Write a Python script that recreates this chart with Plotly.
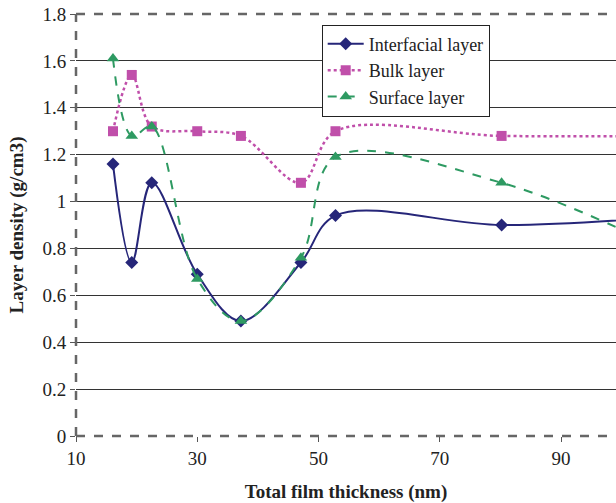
import plotly.graph_objects as go

thickness = [16.1, 19.2, 22.5, 30.0, 37.2, 47.1, 52.8, 80.2, 105.0]
interfacial = [1.16, 0.74, 1.08, 0.69, 0.49, 0.74, 0.94, 0.90, 0.93]
bulk = [1.30, 1.54, 1.32, 1.30, 1.28, 1.08, 1.30, 1.28, 1.28]
surface = [1.61, 1.28, 1.32, 0.67, 0.49, 0.76, 1.19, 1.08, 0.82]

x_ticks = [10, 30, 50, 70, 90]
y_ticks = [0, 0.2, 0.4, 0.6, 0.8, 1, 1.2, 1.4, 1.6, 1.8]
y_labels = ["0", "0.2", "0.4", "0.6", "0.8", "1", "1.2", "1.4", "1.6", "1.8"]

FONT = "Liberation Serif"

fig = go.Figure()
fig.add_trace(go.Scatter(
    x=thickness, y=interfacial, name="Interfacial layer", mode="lines+markers",
    line=dict(color="#262679", width=2, shape="spline", smoothing=1.0),
    marker=dict(symbol="diamond", size=10, color="#262679")))
fig.add_trace(go.Scatter(
    x=thickness, y=bulk, name="Bulk layer", mode="lines+markers",
    line=dict(color="#C04FAA", width=2.5, dash="dot", shape="spline", smoothing=1.0),
    marker=dict(symbol="square", size=10, color="#C04FAA")))
fig.add_trace(go.Scatter(
    x=thickness, y=surface, name="Surface layer", mode="lines+markers",
    line=dict(color="#2E9A62", width=2, dash="dash", shape="spline", smoothing=1.0),
    marker=dict(symbol="triangle-up", size=11, color="#2E9A62")))

# dashed frame lines (left, bottom, top)
for (x0, y0, x1, y1) in [(0, 0, 0, 1), (0, 0, 1, 0), (0, 1, 1, 1)]:
    fig.add_shape(type="line", xref="paper", yref="paper", x0=x0, y0=y0, x1=x1, y1=y1,
                  line=dict(color="#666666", width=2.5, dash="dash"), layer="above")

fig.update_layout(
    width=616, height=503,
    margin=dict(l=76, r=0, t=14, b=67),
    paper_bgcolor="white", plot_bgcolor="white",
    font=dict(family=FONT, size=19, color="#222222"),
    showlegend=True,
    legend=dict(x=0.455, y=0.975, xanchor="left", yanchor="top",
                bgcolor="white", bordercolor="#222222", borderwidth=1,
                font=dict(family=FONT, size=18, color="#222222"),
                tracegroupgap=0, itemwidth=36),
    xaxis=dict(range=[10, 99.07], tickmode="array", tickvals=x_ticks,
               showgrid=False, zeroline=False, showline=False, automargin=False,
               ticks="outside", ticklen=5, tickcolor="#555555",
               ticklabeloverflow="allow",
               title=dict(text="<b>Total film thickness (nm)</b>",
                          font=dict(family=FONT, size=19, color="#222222"), standoff=16),
               tickfont=dict(family=FONT, size=19)),
    yaxis=dict(range=[0, 1.8], tickmode="array", tickvals=y_ticks, ticktext=y_labels,
               showgrid=True, gridcolor="#333333", gridwidth=1.2, zeroline=False,
               showline=False, automargin=False, ticks="outside", ticklen=5, tickcolor="#555555",
               ticklabeloverflow="allow",
               title=dict(text="<b>Layer density (g/cm3)</b>",
                          font=dict(family=FONT, size=19, color="#222222"), standoff=13),
               tickfont=dict(family=FONT, size=19)),
)

fig.write_html("out.html", config={"displayModeBar": False},
               post_script="document.body.style.margin='0';")
